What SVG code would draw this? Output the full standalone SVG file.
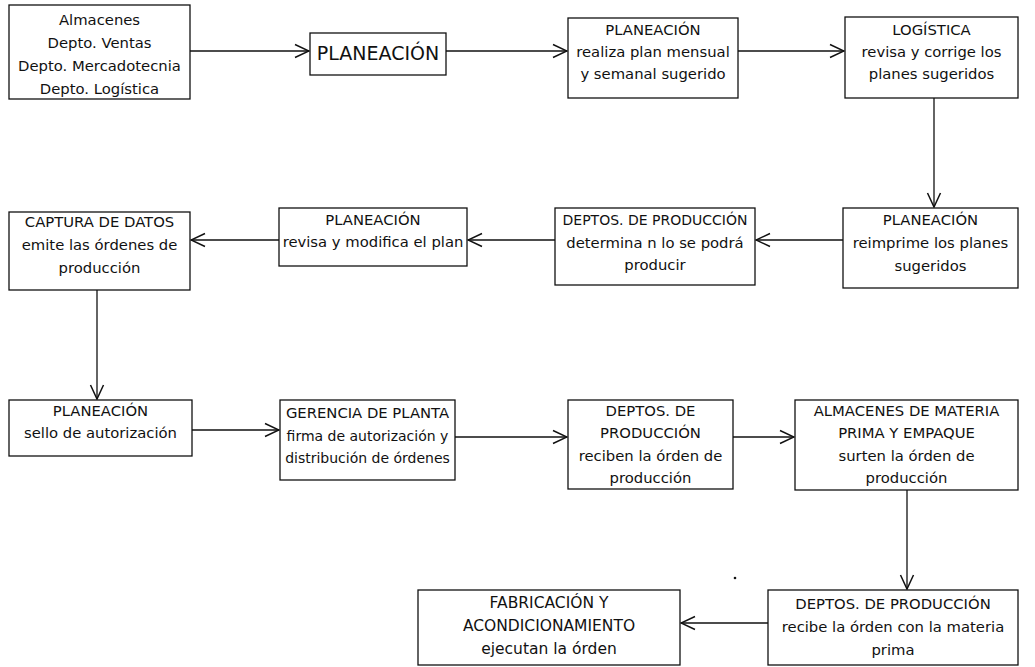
<svg xmlns="http://www.w3.org/2000/svg" width="1035" height="667" viewBox="0 0 1035 667">
  <style>
    .box { fill: #fff; stroke: #111; stroke-width: 1.3; }
    .lbl { font-family: "DejaVu Sans", "Noto Sans", sans-serif; font-size: 14.8px; fill: #111; text-anchor: middle; }
    .big { font-size: 19px; }
    .tight { font-size: 14px; }
    .wide { font-size: 15.5px; }
    .wire { fill: none; stroke: #111; stroke-width: 1.3; marker-end: url(#chev); }
  </style>
  <defs>
    <marker id="chev" markerUnits="userSpaceOnUse" markerWidth="16" markerHeight="16" viewBox="0 0 16 16" refX="15" refY="8" orient="auto">
      <path d="M1,1.5 L15,8 L1,14.5" fill="none" stroke="#111" stroke-width="1.5"/>
    </marker>
  </defs>
  <rect width="1035" height="667" fill="#fff"/>

  <!-- connectors -->
  <g id="connectors">
    <line class="wire" x1="190" y1="51" x2="309" y2="51"/>
    <line class="wire" x1="446" y1="51" x2="567" y2="51"/>
    <line class="wire" x1="738" y1="51" x2="844" y2="51"/>
    <line class="wire" x1="934" y1="98" x2="934" y2="207"/>
    <line class="wire" x1="843" y1="240" x2="756" y2="240"/>
    <line class="wire" x1="555" y1="240" x2="468" y2="240"/>
    <line class="wire" x1="279" y1="240" x2="191" y2="240"/>
    <line class="wire" x1="97" y1="290" x2="97" y2="399"/>
    <line class="wire" x1="192" y1="430" x2="279" y2="430"/>
    <line class="wire" x1="455" y1="437" x2="567" y2="437"/>
    <line class="wire" x1="733" y1="437" x2="794" y2="437"/>
    <line class="wire" x1="907" y1="490" x2="907" y2="589"/>
    <line class="wire" x1="768" y1="623" x2="681" y2="623"/>
  </g>

  <!-- nodes -->
  <g id="origen">
    <rect class="box" x="9" y="5" width="181" height="94"/>
    <text class="lbl" x="99.5" y="25">Almacenes</text>
    <text class="lbl" x="99.5" y="48">Depto. Ventas</text>
    <text class="lbl" x="99.5" y="71">Depto. Mercadotecnia</text>
    <text class="lbl" x="99.5" y="94">Depto. Logística</text>
  </g>
  <g id="planeacion">
    <rect class="box" x="310" y="33" width="136" height="42"/>
    <text class="lbl big" x="378" y="60">PLANEACIÓN</text>
  </g>
  <g id="plan-mensual">
    <rect class="box" x="568" y="18" width="170" height="80"/>
    <text class="lbl" x="653" y="35">PLANEACIÓN</text>
    <text class="lbl" x="653" y="57">realiza plan mensual</text>
    <text class="lbl" x="653" y="79">y semanal sugerido</text>
  </g>
  <g id="logistica">
    <rect class="box" x="845" y="17" width="173" height="81"/>
    <text class="lbl" x="931.5" y="35">LOGÍSTICA</text>
    <text class="lbl" x="931.5" y="57">revisa y corrige los</text>
    <text class="lbl" x="931.5" y="79">planes sugeridos</text>
  </g>
  <g id="reimprime">
    <rect class="box" x="843" y="208" width="175" height="80"/>
    <text class="lbl" x="930.5" y="225">PLANEACIÓN</text>
    <text class="lbl" x="930.5" y="248">reimprime los planes</text>
    <text class="lbl" x="930.5" y="271">sugeridos</text>
  </g>
  <g id="deptos-determina">
    <rect class="box" x="555" y="208" width="200" height="77"/>
    <text class="lbl tight" x="655" y="225">DEPTOS. DE PRODUCCIÓN</text>
    <text class="lbl" x="655" y="248">determina n lo se podrá</text>
    <text class="lbl" x="655" y="270">producir</text>
  </g>
  <g id="revisa-plan">
    <rect class="box" x="279" y="208" width="188" height="58"/>
    <text class="lbl" x="373" y="225">PLANEACIÓN</text>
    <text class="lbl" x="373" y="247">revisa y modifica el plan</text>
  </g>
  <g id="captura">
    <rect class="box" x="9" y="212" width="181" height="78"/>
    <text class="lbl" x="99.5" y="227">CAPTURA DE DATOS</text>
    <text class="lbl" x="99.5" y="250">emite las órdenes de</text>
    <text class="lbl" x="99.5" y="273">producción</text>
  </g>
  <g id="sello">
    <rect class="box" x="9" y="400" width="183" height="56"/>
    <text class="lbl" x="100.5" y="416">PLANEACIÓN</text>
    <text class="lbl" x="100.5" y="438">sello de autorización</text>
  </g>
  <g id="gerencia">
    <rect class="box" x="280" y="400" width="175" height="80"/>
    <text class="lbl" x="367.5" y="418">GERENCIA DE PLANTA</text>
    <text class="lbl tight" x="367.5" y="441">firma de autorización y</text>
    <text class="lbl tight" x="367.5" y="463">distribución de órdenes</text>
  </g>
  <g id="deptos-reciben">
    <rect class="box" x="568" y="400" width="165" height="89"/>
    <text class="lbl" x="650.5" y="416">DEPTOS. DE</text>
    <text class="lbl" x="650.5" y="438">PRODUCCIÓN</text>
    <text class="lbl" x="650.5" y="461">reciben la órden de</text>
    <text class="lbl" x="650.5" y="483">producción</text>
  </g>
  <g id="almacenes-mp">
    <rect class="box" x="795" y="400" width="223" height="90"/>
    <text class="lbl" x="906.5" y="416">ALMACENES DE MATERIA</text>
    <text class="lbl" x="906.5" y="438">PRIMA Y EMPAQUE</text>
    <text class="lbl" x="906.5" y="461">surten la órden de</text>
    <text class="lbl" x="906.5" y="483">producción</text>
  </g>
  <g id="deptos-recibe">
    <rect class="box" x="768" y="590" width="250" height="75"/>
    <text class="lbl" x="893" y="609">DEPTOS. DE PRODUCCIÓN</text>
    <text class="lbl" x="893" y="632">recibe la órden con la materia</text>
    <text class="lbl" x="893" y="655">prima</text>
  </g>
  <g id="fabricacion">
    <rect class="box" x="418" y="590" width="262" height="75"/>
    <text class="lbl wide" x="549" y="608">FABRICACIÓN Y</text>
    <text class="lbl wide" x="549" y="631">ACONDICIONAMIENTO</text>
    <text class="lbl wide" x="549" y="654">ejecutan la órden</text>
  </g>

  <circle cx="735" cy="578" r="1.3" fill="#111"/>
</svg>
